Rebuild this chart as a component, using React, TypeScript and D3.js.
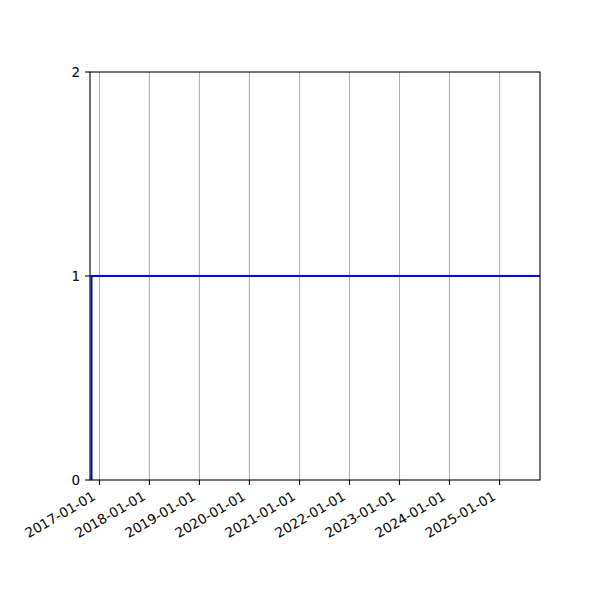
import { useMemo } from "react";
import * as d3 from "d3";

const WIDTH = 600;
const HEIGHT = 600;
const MARGIN = { top: 72, right: 60, bottom: 120, left: 90 };

// step series: jumps from 0 to 1 and stays there
const dates = ["2016-11-04", "2016-11-04", "2026-06-01"];
const values = [0, 1, 1];

const xTicks = [
  "2017-01-01",
  "2018-01-01",
  "2019-01-01",
  "2020-01-01",
  "2021-01-01",
  "2022-01-01",
  "2023-01-01",
  "2024-01-01",
  "2025-01-01",
];
const yTicks = [0, 1, 2];
const xDomain = ["2016-10-24", "2025-10-23"];
const yDomain = [0, 2];

const parse = d3.utcParse("%Y-%m-%d");
const FONT = "DejaVu Sans, sans-serif";

const App = () => {
  const boundsWidth = WIDTH - MARGIN.left - MARGIN.right;
  const boundsHeight = HEIGHT - MARGIN.top - MARGIN.bottom;

  const xScale = useMemo(
    () =>
      d3
        .scaleUtc()
        .domain(xDomain.map((d) => parse(d) as Date))
        .range([0, boundsWidth]),
    [boundsWidth]
  );
  const yScale = useMemo(
    () => d3.scaleLinear().domain(yDomain).range([boundsHeight, 0]),
    [boundsHeight]
  );

  const points = dates.map((d, i) => ({ x: parse(d) as Date, y: values[i] }));
  const linePath = d3
    .line<{ x: Date; y: number }>()
    .x((d) => xScale(d.x))
    .y((d) => yScale(d.y))(points);

  return (
    <svg
      width={WIDTH}
      height={HEIGHT}
      style={{ display: "block", position: "absolute", left: 0, top: 0 }}
    >
      <rect width={WIDTH} height={HEIGHT} fill="white" />
      <defs>
        <clipPath id="plot-clip">
          <rect width={boundsWidth} height={boundsHeight} />
        </clipPath>
      </defs>
      <g transform={`translate(${MARGIN.left},${MARGIN.top})`}>
        {/* vertical grid */}
        {xTicks.map((t) => {
          const x = xScale(parse(t) as Date);
          return (
            <line
              key={"g" + t}
              x1={x}
              x2={x}
              y1={0}
              y2={boundsHeight}
              stroke="#b0b0b0"
              strokeWidth={1.1}
            />
          );
        })}
        <path
          d={linePath || ""}
          fill="none"
          stroke="#0000ff"
          strokeWidth={2}
          clipPath="url(#plot-clip)"
        />
        <rect
          width={boundsWidth}
          height={boundsHeight}
          fill="none"
          stroke="black"
          strokeWidth={1.1}
        />
        {/* x axis */}
        {xTicks.map((t) => {
          const x = xScale(parse(t) as Date);
          return (
            <g key={"x" + t}>
              <line
                x1={x}
                x2={x}
                y1={boundsHeight}
                y2={boundsHeight + 4.9}
                stroke="black"
                strokeWidth={1.1}
              />
              <text
                transform={`translate(${x - 3},${boundsHeight + 19}) rotate(-30)`}
                textAnchor="end"
                fontFamily={FONT}
                fontSize={13.5}
              >
                {t}
              </text>
            </g>
          );
        })}
        {/* y axis */}
        {yTicks.map((t) => {
          const y = yScale(t);
          return (
            <g key={"y" + t}>
              <line
                x1={-4.9}
                x2={0}
                y1={y}
                y2={y}
                stroke="black"
                strokeWidth={1.1}
              />
              <text
                x={-9.8}
                y={y}
                dy="0.36em"
                textAnchor="end"
                fontFamily={FONT}
                fontSize={13.5}
              >
                {t}
              </text>
            </g>
          );
        })}
      </g>
    </svg>
  );
};

export default App;
